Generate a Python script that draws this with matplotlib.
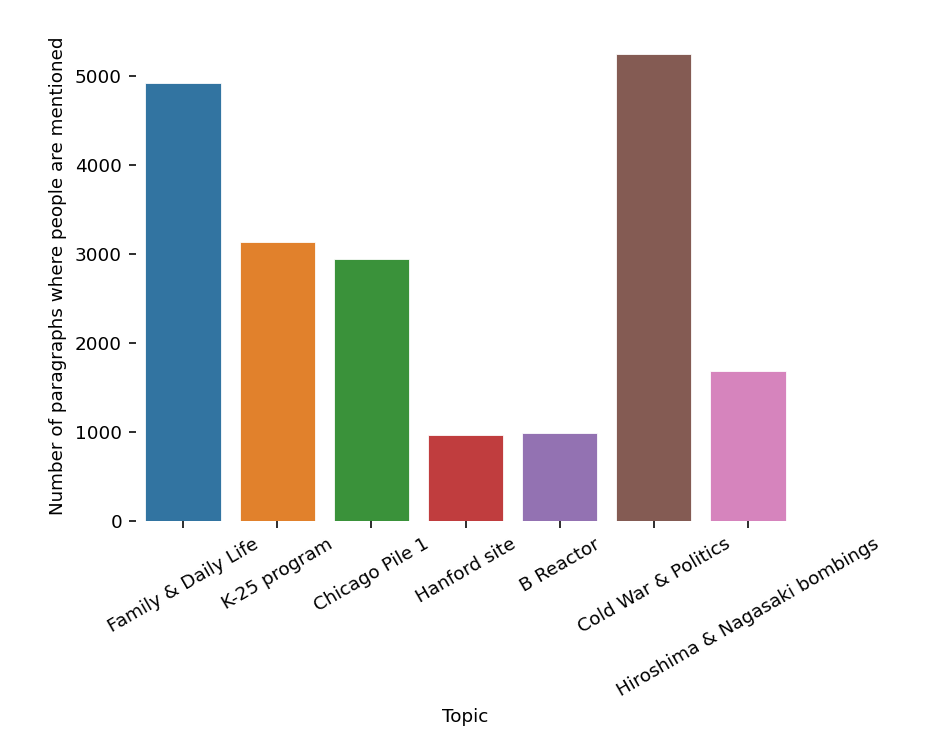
import matplotlib
matplotlib.use("Agg")
import matplotlib.pyplot as plt
import numpy as np

topics = ["Family & Daily Life", "K-25 program", "Chicago Pile 1", "Hanford site",
          "B Reactor", "Cold War & Politics", "Hiroshima & Nagasaki bombings"]
counts = [4925, 3135, 2945, 965, 985, 5255, 1690]

colors = ["#3274A1", "#E1812C", "#3A923A", "#C03D3E", "#9372B2", "#845B53", "#D684BD"]

dpi = 144
fs = 9.2
fig = plt.figure(figsize=(926 / dpi, 754 / dpi), dpi=dpi)
ax = fig.add_axes([136 / 926, 1 - 521 / 754, (795 - 136) / 926, (521 - 30) / 754])

x = np.arange(len(topics))
ax.bar(x, counts, width=0.8, color=colors, edgecolor="white", linewidth=0.4)
ax.set_xlim(-0.5, len(topics) - 0.5)
ax.set_ylim(0, 5523)
ax.set_xticks(x)
ax.set_xticklabels(topics, rotation=30, ha="center", fontsize=fs)
ax.set_yticks([0, 1000, 2000, 3000, 4000, 5000])
ax.tick_params(axis="y", labelsize=fs)
for s in ax.spines.values():
    s.set_visible(False)
ax.set_xlabel("Topic", fontsize=fs)
ax.set_ylabel("Number of paragraphs where people are mentioned", fontsize=fs)

fig.savefig("out.png", dpi=dpi)
